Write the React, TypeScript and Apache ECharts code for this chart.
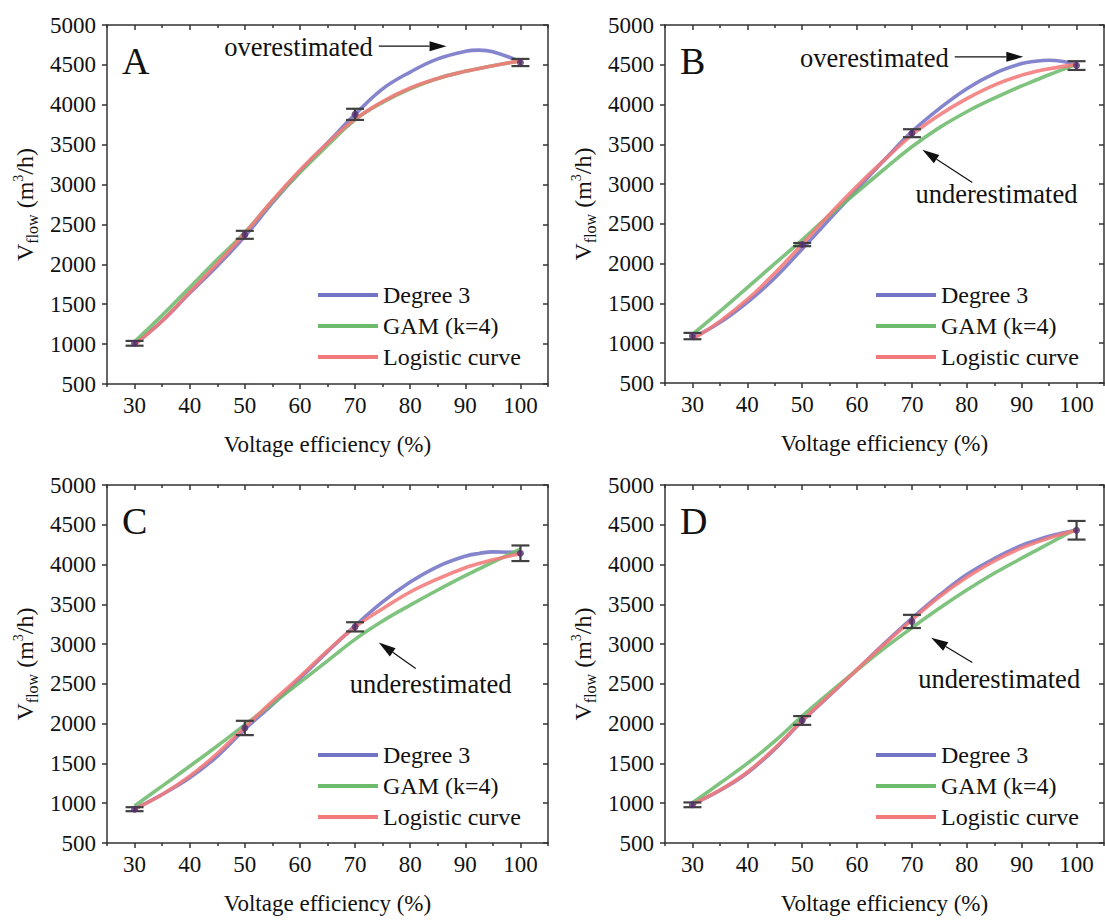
import React, { useEffect, useRef } from 'react';
import * as echarts from 'echarts';

// ---------- data ----------
const xGrid = [30, 35, 40, 45, 50, 55, 60, 65, 70, 75, 80, 85, 90, 92.5, 95, 100];
const measX = [30, 50, 70, 100];
const xTickValues = [30, 40, 50, 60, 70, 80, 90, 100];
const seriesNames = ['Degree 3', 'GAM (k=4)', 'Logistic curve'];
const panelLetters = ['A', 'B', 'C', 'D'];

const deg3A = [1000, 1290, 1640, 1980, 2350, 2770, 3160, 3520, 3880, 4200, 4410, 4575, 4670, 4685, 4665, 4540];
const gamA = [1030, 1360, 1710, 2060, 2400, 2790, 3150, 3490, 3810, 4030, 4200, 4330, 4420, 4455, 4490, 4550];
const logA = [990, 1290, 1650, 2010, 2390, 2800, 3180, 3520, 3820, 4040, 4210, 4330, 4420, 4455, 4490, 4550];
const meanA = [1010, 2370, 3880, 4530];
const errA = [30, 50, 70, 45];

const deg3B = [1065, 1260, 1515, 1820, 2185, 2560, 2935, 3305, 3660, 3950, 4200, 4390, 4515, 4545, 4557, 4505];
const gamB = [1110, 1400, 1700, 2000, 2300, 2610, 2900, 3190, 3470, 3710, 3910, 4080, 4235, 4305, 4375, 4505];
const logB = [1050, 1275, 1550, 1880, 2245, 2620, 2975, 3305, 3620, 3870, 4075, 4245, 4370, 4415, 4450, 4505];
const meanB = [1090, 2240, 3640, 4490];
const errB = [40, 20, 50, 55];

const deg3C = [930, 1110, 1320, 1590, 1930, 2240, 2570, 2905, 3230, 3530, 3780, 3975, 4105, 4140, 4160, 4150];
const gamC = [965, 1215, 1465, 1720, 1985, 2250, 2520, 2790, 3060, 3290, 3490, 3680, 3860, 3945, 4030, 4195];
const logC = [925, 1110, 1340, 1625, 1955, 2280, 2590, 2915, 3215, 3445, 3655, 3820, 3960, 4012, 4060, 4135];
const meanC = [925, 1946, 3217, 4142];
const errC = [25, 90, 58, 98];

const deg3D = [990, 1160, 1380, 1680, 2035, 2355, 2680, 3010, 3325, 3615, 3875, 4075, 4240, 4300, 4355, 4430];
const gamD = [1005, 1250, 1500, 1780, 2095, 2390, 2675, 2950, 3205, 3450, 3680, 3890, 4080, 4172, 4265, 4450];
const logD = [985, 1165, 1390, 1690, 2040, 2360, 2680, 3000, 3305, 3595, 3840, 4045, 4210, 4275, 4335, 4430];
const meanD = [980, 2040, 3285, 4431];
const errD = [30, 55, 83, 117];

const panels = [
  { curves: [deg3A, gamA, logA], mean: meanA, err: errA },
  { curves: [deg3B, gamB, logB], mean: meanB, err: errB },
  { curves: [deg3C, gamC, logC], mean: meanC, err: errC },
  { curves: [deg3D, gamD, logD], mean: meanD, err: errD },
];

// annotation anchors in data coordinates
const annotations: any[] = [
  { panel: 0, text: 'overestimated', from: [74.3, 4735], to: [86.6, 4735], textAt: 'start' },
  { panel: 1, text: 'overestimated', from: [77.8, 4600], to: [90.3, 4600], textAt: 'start' },
  { panel: 1, text: 'underestimated', from: [81, 3019], to: [71.9, 3431], label: [85.4, 2880] },
  { panel: 2, text: 'underestimated', from: [81, 2694], to: [74.3, 3019], label: [83.7, 2500] },
  { panel: 3, text: 'underestimated', from: [81, 2769], to: [73.5, 3081], label: [85.9, 2560] },
];

// ---------- styles / layout ----------
const FONT = 'Liberation Serif';
const AXIS_COLOR = '#333333';
const COLORS = ['#7474c6', '#6dbb6d', '#f27a7a'];
const grids = [
  { left: 107, top: 25, width: 441, height: 359 },
  { left: 665, top: 25, width: 439, height: 358 },
  { left: 107, top: 485, width: 441, height: 358 },
  { left: 665, top: 485, width: 439, height: 358 },
];

function buildOption() {
  const xAxis: any[] = [];
  const yAxis: any[] = [];
  const series: any[] = [];
  const legend: any[] = [];
  const lineStyle = { color: AXIS_COLOR, width: 1.5 };

  grids.forEach((g, i) => {
    const base = { type: 'value', gridIndex: i, min: 25, max: 105, splitLine: { show: false } };
    xAxis.push({
      ...base,
      position: 'bottom',
      axisLine: { show: true, onZero: false, lineStyle },
      axisTick: { show: true, customValues: xTickValues, length: 5, lineStyle },
      axisLabel: {
        show: true,
        customValues: xTickValues,
        fontFamily: FONT,
        fontSize: 23,
        color: '#111',
        margin: 10,
        formatter: (v: number) => String(v),
      },
      name: 'Voltage efficiency (%)',
      nameLocation: 'middle',
      nameGap: 49,
      nameTextStyle: { fontFamily: FONT, fontSize: 23, color: '#111' },
    });
    xAxis.push({
      ...base,
      interval: 10,
      position: 'bottom',
      axisLine: { show: false, onZero: false },
      axisTick: { show: true, length: 3, lineStyle },
      axisLabel: { show: false },
    });
    xAxis.push({
      ...base,
      position: 'top',
      axisLine: { show: true, onZero: false, lineStyle },
      axisTick: { show: true, inside: true, customValues: xTickValues, length: 5, lineStyle },
      axisLabel: { show: false },
    });
    xAxis.push({
      ...base,
      interval: 10,
      position: 'top',
      axisLine: { show: false, onZero: false },
      axisTick: { show: true, inside: true, length: 3, lineStyle },
      axisLabel: { show: false },
    });
    const yBase = { type: 'value', gridIndex: i, min: 500, max: 5000, interval: 500, splitLine: { show: false } };
    yAxis.push({
      ...yBase,
      position: 'left',
      axisLine: { show: true, onZero: false, lineStyle },
      axisTick: { show: true, length: 5, lineStyle },
      axisLabel: {
        fontFamily: FONT,
        fontSize: 23,
        color: '#111',
        margin: 11,
        formatter: (v: number) => String(v),
      },
      name: '{v|V}{s|flow}{v| (m}{p|3}{v|/h)}',
      nameLocation: 'middle',
      nameRotate: 90,
      nameGap: 67,
      nameTextStyle: {
        fontFamily: FONT,
        fontSize: 24,
        color: '#111',
        rich: {
          v: { fontFamily: FONT, fontSize: 24, color: '#111' },
          s: { fontFamily: FONT, fontSize: 16, color: '#111', padding: [14, 0, 0, 0] },
          p: { fontFamily: FONT, fontSize: 14, color: '#111', padding: [0, 0, 14, 0] },
        },
      },
    });
    yAxis.push({
      ...yBase,
      position: 'right',
      axisLine: { show: true, onZero: false, lineStyle },
      axisTick: { show: true, inside: true, length: 5, lineStyle },
      axisLabel: { show: false },
    });

    const p = panels[i];
    p.curves.forEach((arr, k) => {
      series.push({
        type: 'line',
        name: seriesNames[k],
        xAxisIndex: 4 * i,
        yAxisIndex: 2 * i,
        data: xGrid.map((x, j) => [x, arr[j]]),
        smooth: 0.4,
        showSymbol: false,
        color: COLORS[k],
        lineStyle: { width: 3.6, color: COLORS[k], opacity: 0.88 },
        z: 2 + k,
      });
    });
    series.push({
      type: 'custom',
      name: 'err' + i,
      xAxisIndex: 4 * i,
      yAxisIndex: 2 * i,
      data: measX.map((x, j) => [x, p.mean[j] - p.err[j], p.mean[j] + p.err[j]]),
      encode: { x: 0, y: [1, 2] },
      z: 6,
      renderItem: (params: any, api: any) => {
        const x = api.value(0);
        const lo = api.coord([x, api.value(1)]);
        const hi = api.coord([x, api.value(2)]);
        const w = 9;
        const style = { stroke: '#404040', lineWidth: 2.2 };
        return {
          type: 'group',
          children: [
            { type: 'line', shape: { x1: lo[0], y1: lo[1], x2: hi[0], y2: hi[1] }, style },
            { type: 'line', shape: { x1: lo[0] - w, y1: lo[1], x2: lo[0] + w, y2: lo[1] }, style },
            { type: 'line', shape: { x1: hi[0] - w, y1: hi[1], x2: hi[0] + w, y2: hi[1] }, style },
          ],
        };
      },
    });
    series.push({
      type: 'scatter',
      name: 'mean' + i,
      xAxisIndex: 4 * i,
      yAxisIndex: 2 * i,
      data: measX.map((x, j) => [x, p.mean[j]]),
      symbol: 'circle',
      symbolSize: 7,
      itemStyle: { color: '#56306e' },
      z: 7,
    });

    legend.push({
      orient: 'vertical',
      left: g.left + 206,
      top: g.top + 253,
      itemWidth: 60,
      itemHeight: 4,
      itemGap: 7,
      selectedMode: false,
      textStyle: { fontFamily: FONT, fontSize: 24, color: '#111' },
      data: seriesNames.map((n) => ({ name: n, icon: 'rect' })),
    });
  });

  return {
    animation: false,
    backgroundColor: '#ffffff',
    textStyle: { fontFamily: FONT },
    grid: grids.map((g) => ({ ...g, containLabel: false })),
    xAxis,
    yAxis,
    legend,
    series,
  };
}

function buildGraphics(chart: any) {
  const els: any[] = [];
  grids.forEach((g, i) => {
    els.push({
      type: 'text',
      left: g.left + 15,
      top: g.top + 17,
      style: { text: panelLetters[i], fontFamily: FONT, fontSize: 38, fill: '#111' },
      z: 50,
    });
  });
  annotations.forEach((a) => {
    const finder = { xAxisIndex: 4 * a.panel, yAxisIndex: 2 * a.panel };
    const s = chart.convertToPixel(finder, a.from);
    const t = chart.convertToPixel(finder, a.to);
    const dx = t[0] - s[0];
    const dy = t[1] - s[1];
    const len = Math.sqrt(dx * dx + dy * dy);
    const ux = dx / len;
    const uy = dy / len;
    const L = 17;
    const W = 5;
    const bx = t[0] - ux * L;
    const by = t[1] - uy * L;
    els.push({
      type: 'line',
      shape: { x1: s[0], y1: s[1], x2: bx, y2: by },
      style: { stroke: '#111', lineWidth: 1.2 },
      z: 50,
    });
    els.push({
      type: 'polygon',
      shape: {
        points: [
          [t[0], t[1]],
          [bx - uy * W, by + ux * W],
          [bx + uy * W, by - ux * W],
        ],
      },
      style: { fill: '#111' },
      z: 50,
    });
    if (a.textAt === 'start') {
      els.push({
        type: 'text',
        x: s[0] - 6,
        y: s[1] + 1,
        style: {
          text: a.text,
          fontFamily: FONT,
          fontSize: 26.5,
          fill: '#111',
          align: 'right',
          verticalAlign: 'middle',
        },
        z: 50,
      });
    } else {
      const lp = chart.convertToPixel(finder, a.label);
      els.push({
        type: 'text',
        x: lp[0],
        y: lp[1],
        style: {
          text: a.text,
          fontFamily: FONT,
          fontSize: 26.5,
          fill: '#111',
          align: 'center',
          verticalAlign: 'middle',
        },
        z: 50,
      });
    }
  });
  return els;
}

export default function App() {
  const ref = useRef<HTMLDivElement>(null);
  useEffect(() => {
    const chart = echarts.init(ref.current as HTMLDivElement, null, { renderer: 'svg' });
    chart.setOption(buildOption() as any);
    chart.setOption({ graphic: buildGraphics(chart) } as any);
    return () => chart.dispose();
  }, []);
  return (
    <div
      ref={ref}
      style={{ position: 'absolute', left: 0, top: 0, width: 1105, height: 921, background: '#fff' }}
    />
  );
}
